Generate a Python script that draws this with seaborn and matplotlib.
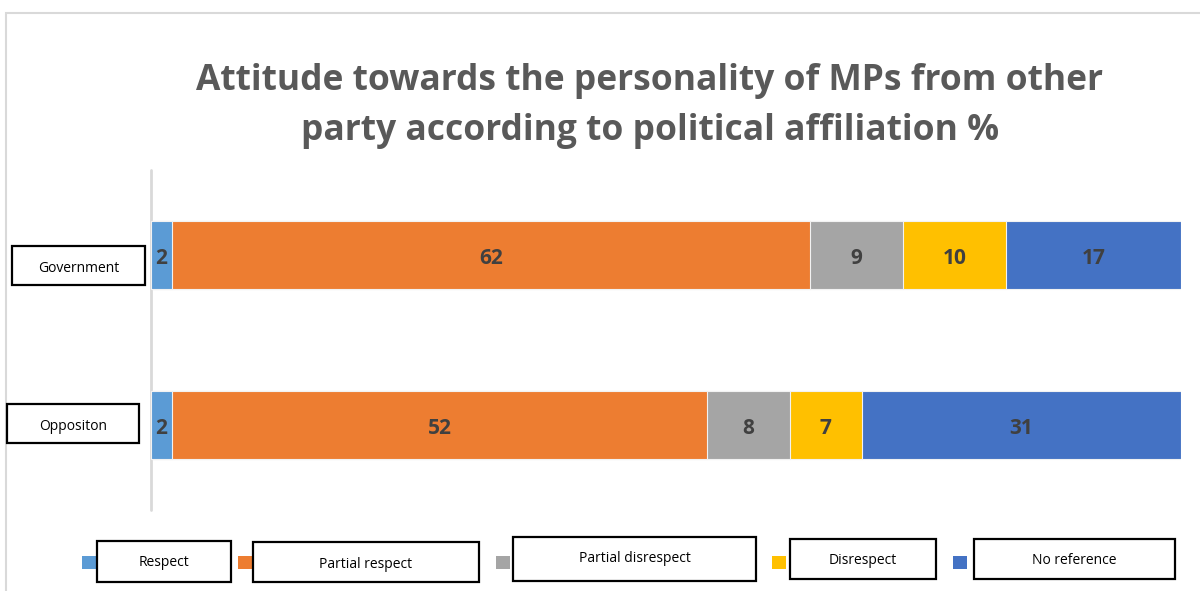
import matplotlib
matplotlib.use("Agg")
import matplotlib.pyplot as plt
from matplotlib.patches import Rectangle
from matplotlib.lines import Line2D
import pandas as pd
import seaborn as sns

# ---- data -------------------------------------------------------------
groups = ["Government", "Oppositon"]
attitudes = ["Respect", "Partial respect", "Partial disrespect", "Disrespect", "No reference"]
respect = [2, 2]
partial_respect = [62, 52]
partial_disrespect = [9, 8]
disrespect = [10, 7]
no_reference = [17, 31]
title = "Attitude towards the personality of MPs from other\nparty according to political affiliation %"

palette = ["#5B9BD5", "#ED7D31", "#A5A5A5", "#FFC000", "#4472C4"]

# ---- figure set-up ----------------------------------------------------
W, H = 1200, 591
sns.set_theme(style="white")
plt.rcParams["font.family"] = ["Open Sans", "DejaVu Sans"]

fig = plt.figure(figsize=(W / 100, H / 100), dpi=100)
fig.patch.set_facecolor("white")


def fx(px):
    return px / W


def fy(py):
    return 1 - py / H


# chart-area frame (only its top and left edges fall inside the canvas)
fig.patches.append(Rectangle((fx(6), fy(H + 20)), 1.2, fy(13) - fy(H + 20),
                             transform=fig.transFigure, fill=False,
                             edgecolor="#D9D9D9", linewidth=1.5))

ax = fig.add_axes([fx(151), fy(510), fx(1181) - fx(151), fy(170) - fy(510)])

series = [respect, partial_respect, partial_disrespect, disrespect, no_reference]
df = pd.DataFrame({name: vals for name, vals in zip(attitudes, series)}, index=groups)
cum = df.cumsum(axis=1)
starts = cum - df

# stacked bars: draw running totals from the last segment backwards so the
# shorter totals sit on top of the longer ones
for name, color in reversed(list(zip(attitudes, palette))):
    sns.barplot(x=cum[name].values, y=groups, color=color, orient="h",
                width=0.4, saturation=1, edgecolor="#F2F2F2", linewidth=0.8,
                ax=ax)

# segment value labels
for i, g in enumerate(groups):
    for name in attitudes:
        v = df.loc[g, name]
        ax.text(starts.loc[g, name] + v / 2, i + 0.018, f"{v}", ha="center",
                va="center", fontsize=15, fontweight="bold", color="#404040")

ax.set_xlim(0, 100)
ax.set_ylim(1.5, -0.5)
ax.axis("off")
ax.add_line(Line2D([0, 0], [0, 1], transform=ax.transAxes, color="#D9D9D9",
                   linewidth=2, clip_on=False, zorder=0))

# title
fig.text(fx(650), fy(106), title, ha="center", va="center", fontsize=25.5,
         fontweight="bold", color="#595959", linespacing=1.5)


def boxed_label(x0, y0, x1, y1, text, ty=None, size=10):
    fig.patches.append(Rectangle((fx(x0), fy(y1)), fx(x1) - fx(x0), fy(y0) - fy(y1),
                                 transform=fig.transFigure, facecolor="white",
                                 edgecolor="black", linewidth=1.6, zorder=5))
    if ty is None:
        ty = (y0 + y1) / 2
    fig.text(fx((x0 + x1) / 2), fy(ty), text, ha="center", va="center",
             fontsize=size, color="black", zorder=6)


# category labels
boxed_label(12, 246, 145, 285, groups[0], ty=268)
boxed_label(7, 404, 139, 443, groups[1], ty=426)

# legend: colour keys with boxed captions
legend_keys = [82, 238, 496, 772, 953]
legend_boxes = [(97, 541, 231, 582, 563), (253, 542, 479, 582, 565),
                (513, 537, 756, 581, 559), (790, 539, 936, 579, 561),
                (974, 539, 1175, 579, 561)]
for name, color, kx, (x0, y0, x1, y1, ty) in zip(attitudes, palette, legend_keys, legend_boxes):
    fig.patches.append(Rectangle((fx(kx), fy(569)), fx(14), fy(556) - fy(569),
                                 transform=fig.transFigure, facecolor=color,
                                 edgecolor="none"))
    boxed_label(x0, y0, x1, y1, name, ty=ty)

fig.savefig("out.png", dpi=100, facecolor="white")
